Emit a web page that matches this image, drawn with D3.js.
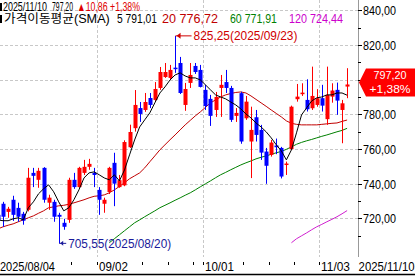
<!DOCTYPE html>
<html><head><meta charset="utf-8">
<script src="https://cdn.jsdelivr.net/npm/d3@7"></script>
<style>body{margin:0;background:#fff;overflow:hidden}svg{display:block}</style>
</head><body><svg id="c" width="415" height="276"></svg>
<script>
const dates = ["2025/08/04","2025/08/05","2025/08/06","2025/08/07","2025/08/08","2025/08/11","2025/08/12","2025/08/13","2025/08/14","2025/08/15","2025/08/18","2025/08/19","2025/08/20","2025/08/21","2025/08/22","2025/08/25","2025/08/26","2025/08/27","2025/08/28","2025/08/29",
"2025/09/02","2025/09/03","2025/09/04","2025/09/05","2025/09/08","2025/09/09","2025/09/10","2025/09/11","2025/09/12","2025/09/15","2025/09/16","2025/09/17","2025/09/18","2025/09/19","2025/09/22","2025/09/23","2025/09/24","2025/09/25","2025/09/26","2025/09/29","2025/09/30",
"2025/10/01","2025/10/02","2025/10/03","2025/10/06","2025/10/07","2025/10/08","2025/10/09","2025/10/10","2025/10/13","2025/10/14","2025/10/15","2025/10/16","2025/10/17","2025/10/20","2025/10/21","2025/10/22","2025/10/23","2025/10/24","2025/10/27","2025/10/28","2025/10/29","2025/10/30","2025/10/31",
"2025/11/03","2025/11/04","2025/11/05","2025/11/06","2025/11/07","2025/11/10"];
const open  = [722,728.4,723.7,730.7,726.0,722.6,724.9,746.2,742.2,749.1,729.0,729.5,722.0,717.4,719.1,742.2,738.0,746.2,749.7,746.2,
736.4,728.4,735.2,752.0,738.0,739.0,761.0,772.0,783.6,782.5,789.4,788.3,795.2,801.5,801.0,806.9,809.6,785.4,798.1,807.9,805.6,
794.1,788.9,782.5,795.2,798.6,795.2,779.1,792.2,777.7,764.3,778.3,771.0,758.5,756.6,762.0,760.6,750.8,759.9,788.7,791.6,788.3,783.5,785.4,
789.3,777.2,790.2,794.1,782.5,796.0];
const high  = [726,729.5,726.6,733.0,729.0,723.7,749.1,749.1,749.1,749.5,733.6,730.7,723.2,719.7,743.4,746.2,749.7,753.7,754.3,749.1,
738.0,731.9,749.7,757.8,745.0,765.0,774.0,794.0,787.1,792.3,792.3,798.6,807.3,809.6,808.5,825.25,813.1,798.1,809.6,809.6,808.5,
797.0,791.2,792.9,802.7,805.6,796.4,783.6,793.0,790.6,784.4,782.5,773.9,760.6,765.2,766.0,761.2,752.7,785.0,797.5,797.9,800.2,807.5,794.5,
797.0,807.5,797.9,798.3,788.3,806.6];
const low   = [716,715.1,720.3,718.5,718.0,716.3,724.0,738.0,737.6,729.0,724.9,718.0,705.55,713.4,717.4,737.0,737.6,745.0,748.0,738.0,
722.0,723.2,734.0,727.0,737.6,738.5,760.6,770.0,775.6,781.4,783.6,787.1,794.1,801.0,799.8,803.9,791.7,782.0,795.2,803.3,795.5,
782.5,773.3,778.5,778.5,792.3,775.6,775.6,763.0,776.8,743.2,764.3,753.7,739.9,755.6,757.0,743.0,745.0,759.5,787.3,790.6,781.6,782.5,784.4,
781.6,773.9,786.7,779.7,763.3,789.3];
const close = [719,720.9,725.5,722.0,720.9,718.6,743.4,744.5,747.4,730.7,731.9,720.9,720.9,715.1,742.2,738.0,749.1,749.7,751.4,745.0,
730.7,730.7,749.1,740.0,742.0,764.0,769.8,785.4,780.2,787.1,785.4,794.6,804.4,804.4,805.6,806.2,792.3,794.6,802.7,804.4,795.8,
784.8,779.1,790.0,797.0,795.2,776.8,780.8,764.3,787.3,771.0,768.1,757.9,750.3,763.7,761.0,744.1,751.6,784.4,790.2,792.5,782.9,790.6,789.3,
785.0,791.2,793.7,787.9,786.34,797.2];
const ma5 = [719.1,718.6,718.6,719.7,720.3,719.1,726.1,729.5,734.1,737.0,739.3,735.3,729.5,724.3,726.1,730.7,736.4,743.3,746.2,746.8,
745.1,743.3,742.2,745.1,741.6,747.9,756.6,765.2,772.7,776.8,780.8,786.6,792.3,795.8,799.8,802.7,803.9,802.1,801.0,801.0,799.8,
797.0,794.1,791.2,790.0,788.9,787.1,785.4,783.1,780.2,777.9,775.0,772.7,769.9,766.4,762.4,758.9,753.7,759.5,769.3,779.7,783.7,787.7,789.5,
790.0,791.2,791.2,792.3,792.3,791.01];
const ma20 = [713.9,715.1,716.0,716.8,718.0,719.1,720.3,721.4,722.9,724.3,726.1,726.6,727.2,727.5,728.1,728.9,729.8,730.7,731.8,732.7,
733.0,733.5,734.7,736.4,738.4,740.5,742.8,744.5,746.2,749.1,752.6,756.0,759.5,762.4,765.3,768.1,771.0,773.9,776.5,779.1,781.4,
784.0,786.6,788.3,790.0,791.2,792.0,792.6,792.9,792.3,790.6,788.6,786.6,784.6,782.5,780.5,778.5,776.2,774.8,774.2,773.9,773.9,773.9,773.9,
774.2,774.5,774.8,775.0,775.9,776.72];
const ma60 = [null,null,null,null,null,null,null,null,null,null,null,null,null,null,null,null,null,null,null,null,null,null,
705.9,708.2,710.5,712.8,715.1,717.4,719.1,720.9,722.6,724.3,726.1,727.5,728.9,730.4,731.8,733.3,734.7,736.4,738.2,
739.9,741.6,743.4,745.1,746.5,748.0,749.4,750.8,752.0,753.1,754.3,755.2,756.0,756.9,757.8,758.6,759.8,761.2,762.7,763.8,764.7,765.5,766.4,
767.3,768.1,769.0,769.9,770.7,771.91];
const ma120 = [null,null,null,null,null,null,null,null,null,null,null,null,null,null,null,null,null,null,null,null,
null,null,null,null,null,null,null,null,null,null,null,null,null,null,null,null,null,null,null,null,null,
null,null,null,null,null,null,null,null,null,null,null,null,null,null,null,null,null,705.9,708.2,709.9,711.6,713.4,715.1,
716.5,718.0,719.4,720.9,722.6,724.44];
const yTicks = [720,740,760,780,800,820,840];
const yMinor = [710,730,750,770,790,810,830];
const xGridDates = ["2025/09/02","2025/10/01","2025/11/03"];
const xGridLabels = ["09/02","10/01","11/03"];
const weekTickDates = ["2025/08/11","2025/08/18","2025/08/25","2025/09/08","2025/09/15","2025/09/22","2025/09/29","2025/10/06","2025/10/13","2025/10/20","2025/10/27"];
const firstLabel = "2025/08/04", lastLabel = "2025/11/10";
const header1 = ["2025/11/10", "797,20", "▲10,86 +1,38%"];
const header2 = ["가격이동평균(SMA)", "5 791,01", "20 776,72", "60 771,91", "120 724,44"];
const hiLabel = "825,25(2025/09/23)", loLabel = "705,55(2025/08/20)";
const lastPrice = ["797,20", "+1,38%"];

const svg = d3.select("#c");
const W = 415, H = 276, plotR = 358, plotB = 257;
const x = d3.scalePoint().domain(dates).range([-2, 347.1]);
const y = d3.scaleLinear().domain([720, 840]).range([218.3, 10.3]);
const FONT = "'Liberation Sans',Arial,sans-serif";
const KFONT = "'Liberation Sans','Noto Sans CJK KR',sans-serif";

// text fitted horizontally to a measured width by scaling the glyphs
function txt(p, tx, ty, s, size, color, w, anchor, fam) {
  const g = p.append("g").attr("transform", `translate(${tx},${ty})`);
  const t = g.append("text").attr("x",0).attr("y",0).attr("font-family",fam||FONT).attr("font-size",size)
    .attr("fill",color||"#000").text(s);
  if (anchor) t.attr("text-anchor",anchor);
  const n = t.node().getComputedTextLength();
  if (w && n > 0) g.attr("transform", `translate(${tx},${ty}) scale(${(w/n).toFixed(4)},1)`);
  return t;
}

const plot = svg.append("g");
plot.append("clipPath").attr("id","cp").append("rect").attr("x",0).attr("y",0).attr("width",plotR).attr("height",plotB);

// grid
const grid = plot.append("g").attr("stroke","#c8c8c8").attr("stroke-dasharray","3,2").attr("stroke-width",1);
yTicks.forEach(v => grid.append("line").attr("x1",0).attr("x2",plotR).attr("y1",Math.round(y(v))+0.5).attr("y2",Math.round(y(v))+0.5));
xGridDates.forEach(d => { const gx = Math.round(x(d) - 2.5) + 0.5;
  grid.append("line").attr("x1",gx).attr("x2",gx).attr("y1",0).attr("y2",plotB); });

// header
svg.append("rect").attr("x",0).attr("y",3).attr("width",2).attr("height",8).attr("fill","#000");
svg.append("rect").attr("x",0).attr("y",15).attr("width",2).attr("height",8).attr("fill","#000");
txt(svg, 3, 10.7, header1[0], 12, "#000", 44);
txt(svg, 52, 10.7, header1[1], 12, "#000", 21);
txt(svg, 77, 10.7, header1[2], 12, "#e00000", 63);
txt(svg, 4, 22.9, header2[0], 12, "#000", 106, null, KFONT);
const h2c = ["#000","#c00000","#008000","#cc00cc"], h2x = [117,162,230,289], h2w = [40,56,47,54];
for (let i=1;i<header2.length;i++) txt(svg, h2x[i-1], 22.9, header2[i], 12, h2c[i-1], h2w[i-1]);

const cg = plot.append("g").attr("clip-path","url(#cp)");
// MA lines
const line = d3.line().defined(d => d[1] != null).x(d => x(d[0])).y(d => y(d[1]));
const mas = [[ma120,"#d020d0"],[ma60,"#008000"],[ma20,"#c00000"]];
mas.forEach(([arr,c]) => cg.append("path").attr("d", line(dates.map((d,i)=>[d,arr[i]]))).attr("fill","none").attr("stroke",c).attr("stroke-width",1));

// candles
const bw = 4;
dates.forEach((d,i) => {
  const up = close[i] >= open[i];
  const col = up ? "#ff0000" : "#0000ff";
  const cx = Math.round(x(d));
  cg.append("line").attr("x1",cx+0.5).attr("x2",cx+0.5).attr("y1",y(high[i])).attr("y2",y(low[i])).attr("stroke",col).attr("stroke-width",1);
  const t = y(Math.max(open[i],close[i])), b = y(Math.min(open[i],close[i]));
  cg.append("rect").attr("x",cx-1.5).attr("y",t).attr("width",bw).attr("height",Math.max(1.5,b-t)).attr("fill",col);
});
cg.append("path").attr("d", line(dates.map((d,i)=>[d,ma5[i]]))).attr("fill","none").attr("stroke","#000").attr("stroke-width",1);

// hi/lo annotations
const hiI = high.indexOf(d3.max(high)), loI = low.indexOf(d3.min(low));
const hx = x(dates[hiI])+0.5, hy = y(high[hiI]);
plot.append("line").attr("x1",hx).attr("x2",hx+16).attr("y1",hy).attr("y2",hy).attr("stroke","#d00000");
plot.append("path").attr("d",`M${hx+1},${hy}L${hx+5},${hy-3}L${hx+5},${hy+3}Z`).attr("fill","#d00000");
txt(plot, hx+18, hy+4.5, hiLabel, 13, "#d00000", 104);
const lx = x(dates[loI])+0.5, ly = y(low[loI]);
plot.append("line").attr("x1",lx).attr("x2",lx+7).attr("y1",ly).attr("y2",ly).attr("stroke","#1a1a9a");
plot.append("path").attr("d",`M${lx+1},${ly}L${lx+4},${ly-2.5}L${lx+4},${ly+2.5}Z`).attr("fill","#1a1a9a");
txt(plot, lx+9, ly+4.5, loLabel, 13, "#1a1a9a", 103);

// last price tag geometry
const py = y(close[close.length-1]);
const tagTop = py-16, tagBot = py+12;

// right axis
svg.append("line").attr("x1",plotR+0.5).attr("x2",plotR+0.5).attr("y1",0).attr("y2",plotB).attr("stroke","#999");
yTicks.forEach(v => { const yy = Math.round(y(v))+0.5;
  svg.append("line").attr("x1",plotR).attr("x2",plotR+4).attr("y1",yy).attr("y2",yy).attr("stroke","#000");
  if (yy < tagTop - 4 || yy > tagBot + 4)
    txt(svg, plotR+5, yy+4.5, d3.format(".2f")(v).replace(".",","), 13, "#000", 33);
});
yMinor.forEach(v => { const yy = Math.round(y(v))+0.5;
  svg.append("line").attr("x1",plotR).attr("x2",plotR+3).attr("y1",yy).attr("y2",yy).attr("stroke","#000"); });

svg.append("path").attr("d",`M${plotR+1},${py-2}L366,${tagTop}L415,${tagTop}L415,${tagBot}L366,${tagBot}Z`).attr("fill","#ff0000");
txt(svg, 390, py-5, lastPrice[0], 11.5, "#fff", 33, "middle");
txt(svg, 390, py+8.5, lastPrice[1], 11.5, "#fff", 41, "middle");

// bottom axis
svg.append("line").attr("x1",0).attr("x2",W).attr("y1",274.5).attr("y2",274.5).attr("stroke","#000").attr("stroke-width",1.5);
weekTickDates.forEach(d => { const gx = Math.round(x(d)-2.5)+0.5;
  svg.append("line").attr("x1",gx).attr("x2",gx).attr("y1",262).attr("y2",265).attr("stroke","#000"); });
const lblBg = svg.append("g");
lblBg.append("rect").attr("x",0).attr("y",259).attr("width",56).attr("height",14).attr("fill","#fff");
txt(svg, 0, 271, firstLabel, 13, "#000", 55);
lblBg.append("rect").attr("x",357).attr("y",259).attr("width",58).attr("height",14).attr("fill","#fff");
txt(svg, 414.5, 271, lastLabel, 13, "#000", 56, "end");
xGridDates.forEach((d,k) => { const gx = Math.round(x(d)-2.5)+0.5;
  lblBg.append("rect").attr("x",gx+1).attr("y",259).attr("width",30).attr("height",14).attr("fill","#fff");
  svg.append("line").attr("x1",gx).attr("x2",gx).attr("y1",262).attr("y2",265).attr("stroke","#000");
  txt(svg, gx+1.5, 271, xGridLabels[k], 13, "#000", 29);
});
</script></body></html>
